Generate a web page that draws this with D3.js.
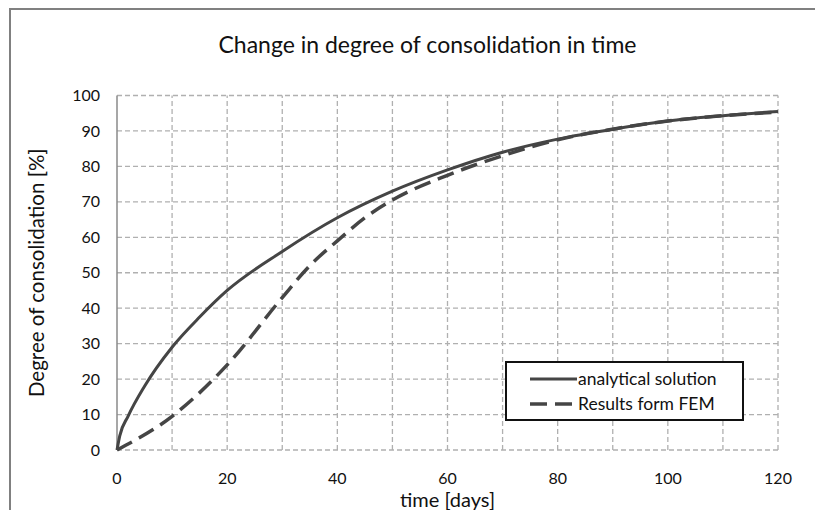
<!DOCTYPE html>
<html>
<head>
<meta charset="utf-8">
<script src="https://cdn.jsdelivr.net/npm/d3@7"></script>
<style>
  body { margin: 0; background: #fff; }
  svg { font-family: Lato, "Open Sans", sans-serif; }
</style>
</head>
<body>
<svg width="815" height="510"></svg>
<script>
// data: time [days] -> degree of consolidation [%]
var analyticalDays = [0, 0.5, 2, 5, 10, 15, 20, 30, 40, 50, 60, 70, 80, 90, 100, 110, 120];
var analyticalValues = [0, 4, 9.5, 18, 29, 37.5, 45, 56, 65.5, 73, 79, 84, 87.7, 90.5, 92.8, 94.3, 95.5];
var femDays = [0, 10, 20, 30, 35, 40, 45, 50, 60, 70, 80, 90, 100, 110, 120];
var femValues = [0, 9.5, 24, 43, 52, 59, 65.5, 70.5, 77.5, 83, 87.5, 90.5, 92.8, 94.3, 95.3];
var xTicks = [0, 20, 40, 60, 80, 100, 120];
var yTicks = [0, 10, 20, 30, 40, 50, 60, 70, 80, 90, 100];
var seriesNames = ["analytical solution", "Results form FEM"];

var svg = d3.select("svg");

// frame (cropped on right and bottom)
svg.append("path")
    .attr("d", "M10,510 L10,9 L815,9")
    .style("fill", "none")
    .style("stroke", "#808080")
    .style("stroke-width", 2);

var x = d3.scaleLinear().domain([0, 120]).range([117, 778]);
var y = d3.scaleLinear().domain([0, 100]).range([450, 95.5]);

// grid
var grid = svg.append("g")
    .style("stroke", "#b0b0b0")
    .style("stroke-width", 1.3)
    .style("stroke-dasharray", "5,3");

grid.selectAll("line.h")
  .data(yTicks)
  .enter().append("line")
    .attr("x1", x(0)).attr("x2", x(120))
    .attr("y1", function(d){ return y(d) }).attr("y2", function(d){ return y(d) });

grid.selectAll("line.v")
  .data(d3.range(10, 121, 10))
  .enter().append("line")
    .attr("x1", function(d){ return x(d) }).attr("x2", function(d){ return x(d) })
    .attr("y1", y(0)).attr("y2", y(100));

// y axis line
svg.append("line")
    .attr("x1", x(0)).attr("x2", x(0))
    .attr("y1", y(0)).attr("y2", y(100))
    .style("stroke", "#8a8a8a")
    .style("stroke-width", 1.5);

// tick labels
svg.selectAll("text.ytick")
  .data(yTicks)
  .enter().append("text")
    .attr("x", 100)
    .attr("y", function(d){ return y(d) })
    .attr("dy", "0.35em")
    .attr("text-anchor", "end")
    .style("font-size", "16px")
    .style("fill", "#111")
    .text(function(d){ return d });

svg.selectAll("text.xtick")
  .data(xTicks)
  .enter().append("text")
    .attr("x", function(d){ return x(d) })
    .attr("y", 478)
    .attr("dy", "0.35em")
    .attr("text-anchor", "middle")
    .style("font-size", "16px")
    .style("fill", "#111")
    .text(function(d){ return d });

// titles
svg.append("text")
    .attr("x", 427.5).attr("y", 53)
    .attr("text-anchor", "middle")
    .style("font-size", "23px")
    .style("fill", "#111")
    .text("Change in degree of consolidation in time");

svg.append("text")
    .attr("x", x(60)).attr("y", 507)
    .attr("text-anchor", "middle")
    .style("font-size", "20px")
    .style("fill", "#111")
    .text("time [days]");

svg.append("text")
    .attr("transform", "translate(44," + y(50) + ") rotate(-90)")
    .attr("text-anchor", "middle")
    .style("font-size", "20.5px")
    .style("fill", "#111")
    .text("Degree of consolidation [%]");

// curves
var line = d3.line()
    .x(function(d){ return x(d[0]) })
    .y(function(d){ return y(d[1]) })
    .curve(d3.curveMonotoneX);

var analytical = analyticalDays.map(function(d, i){ return [d, analyticalValues[i]] });
var fem = femDays.map(function(d, i){ return [d, femValues[i]] });

svg.append("path")
    .attr("d", line(analytical))
    .style("fill", "none")
    .style("stroke", "#454545")
    .style("stroke-width", 3);

svg.append("path")
    .attr("d", line(fem))
    .style("fill", "none")
    .style("stroke", "#454545")
    .style("stroke-width", 3.5)
    .style("stroke-dasharray", "17,8");

// legend
var legend = svg.append("g");
legend.append("rect")
    .attr("x", 506).attr("y", 362)
    .attr("width", 237).attr("height", 58)
    .style("fill", "#fff")
    .style("stroke", "#111")
    .style("stroke-width", 2);

var legendY = [379, 404];
var dashes = [null, "17,8"];
seriesNames.forEach(function(name, i){
  legend.append("line")
      .attr("x1", 530).attr("x2", 577)
      .attr("y1", legendY[i]).attr("y2", legendY[i])
      .style("stroke", "#454545")
      .style("stroke-width", i ? 3.5 : 3)
      .style("stroke-dasharray", dashes[i]);
  legend.append("text")
      .attr("x", 578).attr("y", legendY[i])
      .attr("dy", "0.35em")
      .style("font-size", "17.5px")
      .style("fill", "#111")
      .text(name);
});
</script>
</body>
</html>
